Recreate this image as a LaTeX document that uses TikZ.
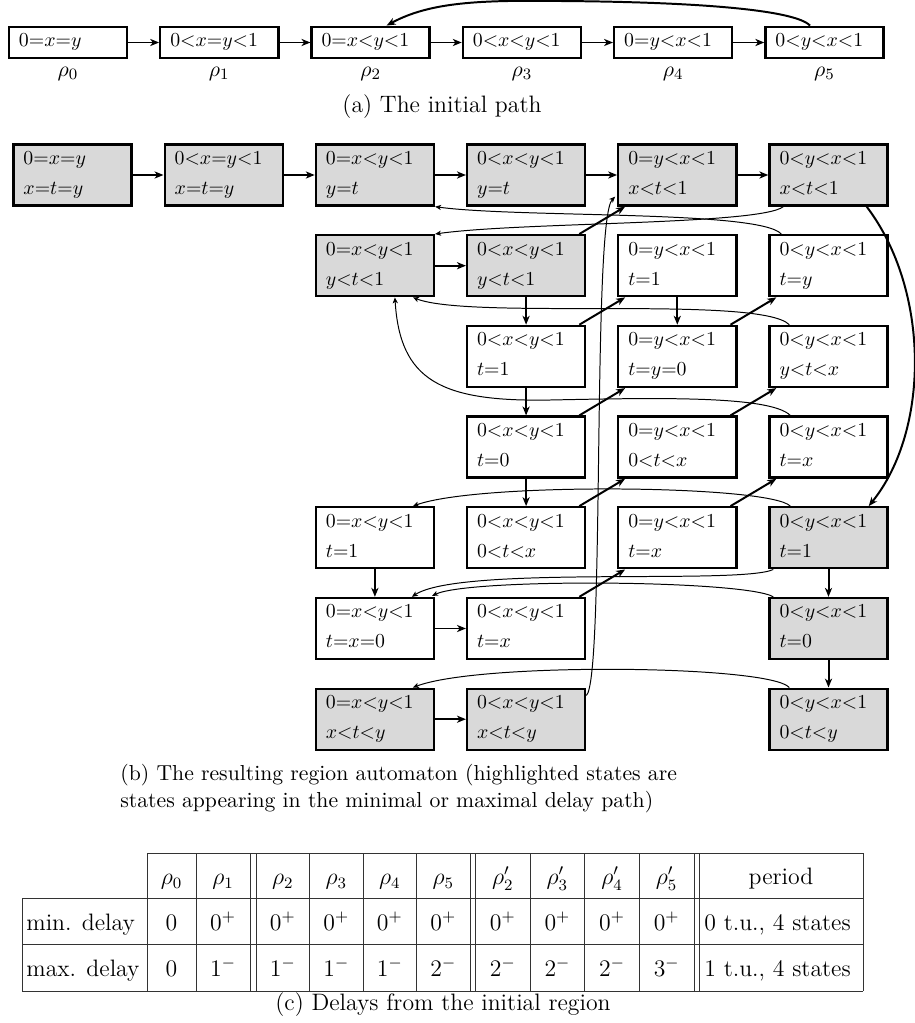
\documentclass[tikz,border=0pt]{standalone}
\usetikzlibrary{arrows.meta,calc}
\definecolor{boxgray}{gray}{0.85}
\newcommand\bs{\rule[-2.6pt]{0pt}{9.6pt}}
\begin{document}
\begin{tikzpicture}[x=0.505pt,y=-0.505pt,
  stb/.style={draw, line width=1.2pt, text width=49.5pt, inner xsep=5.05pt, inner ysep=0pt, minimum height=30.8pt, align=left, font=\fontsize{10}{15.15}\selectfont},
  hl/.style={stb, fill=boxgray},
  sa/.style={draw, line width=1.2pt, text width=49.5pt, inner xsep=5.05pt, inner ysep=0pt, minimum height=15.9pt, align=left, font=\fontsize{10}{12}\selectfont},
  thk/.style={line width=1pt, -{Stealth[length=4.5pt,width=3.6pt,inset=1.3pt]}},
  thn/.style={line width=0.5pt, -{Stealth[length=3pt,width=2.6pt,inset=0.8pt]}},
  lab/.style={font=\fontsize{11}{13}\selectfont, inner sep=0pt, anchor=base},
  capt/.style={font=\fontsize{12}{14.5}\selectfont, inner sep=0pt, anchor=base},
  capts/.style={font=\fontsize{10.95}{13.6}\selectfont, inner sep=0pt, anchor=base west},
  tab/.style={font=\fontsize{12}{14.5}\selectfont, inner sep=0pt, anchor=base},
  tl/.style={line width=0.5pt, black!80}
]
\useasboundingbox (0,0) rectangle (915,1023);

% ---------- (a) initial path ----------
\node[sa] (a0) at (68,42.5) {\bs$0{=}x{=}y$};
\node[sa] (a1) at (219.3,42.5) {\bs$0{<}x{=}y{<}1$};
\node[sa] (a2) at (370.6,42.5) {\bs$0{=}x{<}y{<}1$};
\node[sa] (a3) at (521.9,42.5) {\bs$0{<}x{<}y{<}1$};
\node[sa] (a4) at (673.2,42.5) {\bs$0{=}y{<}x{<}1$};
\node[sa] (a5) at (824.5,42.5) {\bs$0{<}y{<}x{<}1$};
\node[lab] (l0) at (68,76) {$\rho_0$};
\node[lab] (l1) at (219.3,76) {$\rho_1$};
\node[lab] (l2) at (370.6,76) {$\rho_2$};
\node[lab] (l3) at (521.9,76) {$\rho_3$};
\node[lab] (l4) at (673.2,76) {$\rho_4$};
\node[lab] (l5) at (824.5,76) {$\rho_5$};
\foreach \p/\q in {a0/a1,a1/a2,a2/a3,a3/a4,a4/a5}
  \draw[thk] (\p.east) -- (\q.west);
\draw[thk] ($(a5.north)+(-14.5,0)$) .. controls (795,10) and (700,2) .. (560,1)
  .. controls (480,0) and (430,2) .. ($(a2.north)+(16,0)$);
\node[capt] (capa) at (442,112) {(a) The initial path};

% ---------- (b) region automaton ----------
\node[hl] (r1c1) at (72.5,175) {\bs$0{=}x{=}y$\\\bs$x{=}t{=}y$};
\node[hl] (r1c2) at (223.7,175) {\bs$0{<}x{=}y{<}1$\\\bs$x{=}t{=}y$};
\node[hl] (r1c3) at (374.9,175) {\bs$0{=}x{<}y{<}1$\\\bs$y{=}t$};
\node[hl] (r1c4) at (526.1,175) {\bs$0{<}x{<}y{<}1$\\\bs$y{=}t$};
\node[hl] (r1c5) at (677.3,175) {\bs$0{=}y{<}x{<}1$\\\bs$x{<}t{<}1$};
\node[hl] (r1c6) at (828.5,175) {\bs$0{<}y{<}x{<}1$\\\bs$x{<}t{<}1$};

\node[hl] (r2c3) at (374.9,265.7) {\bs$0{=}x{<}y{<}1$\\\bs$y{<}t{<}1$};
\node[hl] (r2c4) at (526.1,265.7) {\bs$0{<}x{<}y{<}1$\\\bs$y{<}t{<}1$};
\node[stb] (r2c5) at (677.3,265.7) {\bs$0{=}y{<}x{<}1$\\\bs$t{=}1$};
\node[stb] (r2c6) at (828.5,265.7) {\bs$0{<}y{<}x{<}1$\\\bs$t{=}y$};

\node[stb] (r3c4) at (526.1,356.4) {\bs$0{<}x{<}y{<}1$\\\bs$t{=}1$};
\node[stb] (r3c5) at (677.3,356.4) {\bs$0{=}y{<}x{<}1$\\\bs$t{=}y{=}0$};
\node[stb] (r3c6) at (828.5,356.4) {\bs$0{<}y{<}x{<}1$\\\bs$y{<}t{<}x$};

\node[stb] (r4c4) at (526.1,447.1) {\bs$0{<}x{<}y{<}1$\\\bs$t{=}0$};
\node[stb] (r4c5) at (677.3,447.1) {\bs$0{=}y{<}x{<}1$\\\bs$0{<}t{<}x$};
\node[stb] (r4c6) at (828.5,447.1) {\bs$0{<}y{<}x{<}1$\\\bs$t{=}x$};

\node[stb] (r5c3) at (374.9,537.8) {\bs$0{=}x{<}y{<}1$\\\bs$t{=}1$};
\node[stb] (r5c4) at (526.1,537.8) {\bs$0{<}x{<}y{<}1$\\\bs$0{<}t{<}x$};
\node[stb] (r5c5) at (677.3,537.8) {\bs$0{=}y{<}x{<}1$\\\bs$t{=}x$};
\node[hl] (r5c6) at (828.5,537.8) {\bs$0{<}y{<}x{<}1$\\\bs$t{=}1$};

\node[stb] (r6c3) at (374.9,628.5) {\bs$0{=}x{<}y{<}1$\\\bs$t{=}x{=}0$};
\node[stb] (r6c4) at (526.1,628.5) {\bs$0{<}x{<}y{<}1$\\\bs$t{=}x$};
\node[hl] (r6c6) at (828.5,628.5) {\bs$0{<}y{<}x{<}1$\\\bs$t{=}0$};

\node[hl] (r7c3) at (374.9,719.2) {\bs$0{=}x{<}y{<}1$\\\bs$x{<}t{<}y$};
\node[hl] (r7c4) at (526.1,719.2) {\bs$0{<}x{<}y{<}1$\\\bs$x{<}t{<}y$};
\node[hl] (r7c6) at (828.5,719.2) {\bs$0{<}y{<}x{<}1$\\\bs$0{<}t{<}y$};

% thick edges
\foreach \p/\q in {r1c1/r1c2,r1c2/r1c3,r1c3/r1c4,r1c4/r1c5,r1c5/r1c6,r2c3/r2c4,r6c3/r6c4,r7c3/r7c4}
  \draw[thk] (\p.east) -- (\q.west);
\foreach \p/\q in {r2c4/r3c4,r3c4/r4c4,r4c4/r5c4,r2c5/r3c5,r5c3/r6c3,r5c6/r6c6,r6c6/r7c6}
  \draw[thk] (\p.south) -- (\q.north);
\foreach \p/\q in {r2c4/r1c5,r3c4/r2c5,r3c5/r2c6,r4c4/r3c5,r4c5/r3c6,r5c4/r4c5,r5c5/r4c6,r6c4/r5c5}
  \draw[thk] ($(\p.north east)+(-7,0)$) -- ($(\q.south west)+(8,0)$);
\draw[thk] ($(r1c6.south east)+(-22,0)$) .. controls (930,290) and (930,430) .. ($(r5c6.north east)+(-20,0)$);

% thin edges
\draw[thn] ($(r2c6.north west)+(13,0)$) .. controls (760,210) and (520,218) .. (r1c3.south east);
\draw[thn] ($(r1c6.south west)+(15,0)$) .. controls (760,225) and (520,222) .. (r2c3.north east);
\draw[thn] ($(r3c6.north west)+(21,0)$) .. controls (760,295) and (470,320) .. ($(r2c3.south)+(38,0)$);
\draw[thn] ($(r4c6.north west)+(22,0)$) .. controls (770,395) and (650,398) .. (550,400)
  .. controls (440,402) and (400,380) .. ($(r2c3.south)+(20,0)$);
\draw[thn] ($(r5c6.north west)+(22,0)$) .. controls (770,485) and (480,482) .. ($(r5c3.north)+(38,0)$);
\draw[thn] ($(r5c6.south west)+(5,0)$) .. controls (740,585) and (460,565) .. ($(r6c3.north)+(37,0)$);
\draw[thn] ($(r6c6.north west)+(5,0)$) .. controls (745,580) and (470,578) .. ($(r6c3.north east)+(-3,-1)$);
\draw[thn] ($(r7c6.north west)+(21,0)$) .. controls (770,665) and (480,662) .. ($(r7c3.north)+(38,0)$);
\draw[thn] ($(r7c4.north east)+(0,8)$) .. controls (605,680) and (592,220) .. ($(r1c5.south west)+(-2,-10)$);

\node[capts] (capb1) at (120,780) {(b) The resulting region automaton (highlighted states are};
\node[capts] (capb2) at (120,807) {states appearing in the minimal or maximal delay path)};

% ---------- (c) table ----------
\draw[tl] (147,853) -- (863,853);
\foreach \yy in {898,944,991} \draw[tl] (22,\yy) -- (863,\yy);
\draw[tl] (22,898) -- (22,991);
\foreach \xx in {147,196,250,256,309.5,363,416.5,470,475.5,530.1,584.7,639.3,694,699,863}
  \draw[tl] (\xx,853) -- (\xx,991);

\node[tab] (h0) at (171.5,884.5) {$\rho_0$};
\node[tab] (h1) at (223,884.5) {$\rho_1$};
\node[tab] (h2) at (282.75,884.5) {$\rho_2$};
\node[tab] (h3) at (336.25,884.5) {$\rho_3$};
\node[tab] (h4) at (389.75,884.5) {$\rho_4$};
\node[tab] (h5) at (443.25,884.5) {$\rho_5$};
\node[tab] (h6) at (502.8,884.5) {$\rho'_2$};
\node[tab] (h7) at (557.4,884.5) {$\rho'_3$};
\node[tab] (h8) at (612,884.5) {$\rho'_4$};
\node[tab] (h9) at (666.65,884.5) {$\rho'_5$};
\node[tab] (hp) at (781,884.5) {period};

\node[tab, anchor=base west] (mn) at (26,930) {min. delay};
\node[tab] (m0) at (171.5,930) {$0$};
\node[tab] (m1) at (223,930) {$0^+$};
\node[tab] (m2) at (282.75,930) {$0^+$};
\node[tab] (m3) at (336.25,930) {$0^+$};
\node[tab] (m4) at (389.75,930) {$0^+$};
\node[tab] (m5) at (443.25,930) {$0^+$};
\node[tab] (m6) at (502.8,930) {$0^+$};
\node[tab] (m7) at (557.4,930) {$0^+$};
\node[tab] (m8) at (612,930) {$0^+$};
\node[tab] (m9) at (666.65,930) {$0^+$};
\node[tab, anchor=base west] (mp) at (704,930) {0 t.u., 4 states};

\node[tab, anchor=base west] (mx) at (26,976.5) {max. delay};
\node[tab] (x0) at (171.5,976.5) {$0$};
\node[tab] (x1) at (223,976.5) {$1^-$};
\node[tab] (x2) at (282.75,976.5) {$1^-$};
\node[tab] (x3) at (336.25,976.5) {$1^-$};
\node[tab] (x4) at (389.75,976.5) {$1^-$};
\node[tab] (x5) at (443.25,976.5) {$2^-$};
\node[tab] (x6) at (502.8,976.5) {$2^-$};
\node[tab] (x7) at (557.4,976.5) {$2^-$};
\node[tab] (x8) at (612,976.5) {$2^-$};
\node[tab] (x9) at (666.65,976.5) {$3^-$};
\node[tab, anchor=base west] (xp) at (704,976.5) {1 t.u., 4 states};

\node[capt] (capc) at (443,1010) {(c) Delays from the initial region};
\end{tikzpicture}
\end{document}
